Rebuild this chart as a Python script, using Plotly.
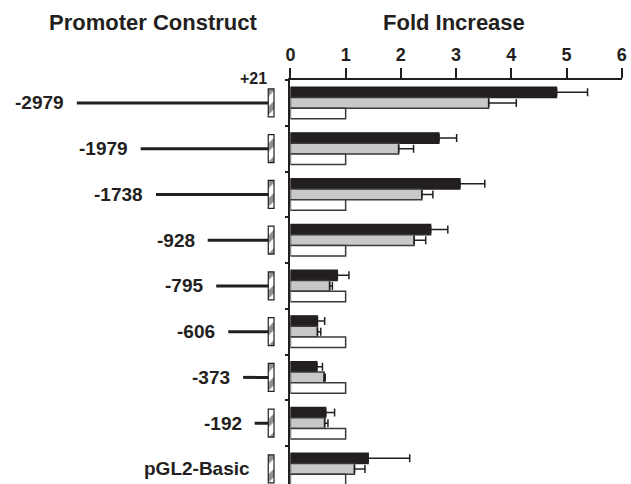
import plotly.graph_objects as go

# ---- data ----
constructs = ["-2979", "-1979", "-1738", "-928", "-795", "-606", "-373", "-192", "pGL2-Basic"]
starts = [-2979, -1979, -1738, -928, -795, -606, -373, -192, None]
end_bp = 21
black_vals = [4.82, 2.69, 3.07, 2.54, 0.85, 0.49, 0.48, 0.64, 1.41]
black_err = [0.56, 0.32, 0.45, 0.31, 0.21, 0.13, 0.10, 0.16, 0.75]
gray_vals = [3.59, 1.96, 2.38, 2.24, 0.71, 0.49, 0.61, 0.62, 1.16]
gray_err = [0.50, 0.27, 0.20, 0.21, 0.05, 0.06, 0.02, 0.06, 0.19]
white_vals = [1, 1, 1, 1, 1, 1, 1, 1, 1]
x_ticks = [0, 1, 2, 3, 4, 5, 6]

# ---- style ----
INK = "#231f20"
EDGE = "#3a3a3a"
FONT = "Liberation Sans, Arial, sans-serif"
W, H = 631, 484
TOP = 80
BOX_LEN = 90  # bp, visual width of the +21 box

fig = go.Figure()

def err(a):
    return dict(type="data", array=a, arrayminus=[0] * len(a), symmetric=False,
                color=INK, thickness=1.5, width=4)

fig.add_trace(go.Bar(y=constructs, x=black_vals, orientation="h", error_x=err(black_err),
                     marker=dict(color=INK, line=dict(color=INK, width=1.2)), name="black"))
fig.add_trace(go.Bar(y=constructs, x=gray_vals, orientation="h", error_x=err(gray_err),
                     marker=dict(color="#c8c8c8", line=dict(color=EDGE, width=1.5)), name="gray"))
fig.add_trace(go.Bar(y=constructs, x=white_vals, orientation="h",
                     marker=dict(color="white", line=dict(color=EDGE, width=1.5)), name="white"))

# promoter lines
lx, ly = [], []
for c, s in zip(constructs, starts):
    if s is None:
        continue
    lx += [s, end_bp, None]
    ly += [c, c, None]
fig.add_trace(go.Scatter(x=lx, y=ly, mode="lines", line=dict(color=INK, width=3),
                         xaxis="x2", yaxis="y", hoverinfo="skip"))

# hatched boxes
fig.add_trace(go.Bar(y=constructs, x=[BOX_LEN] * len(constructs), base=[end_bp] * len(constructs),
                     orientation="h", xaxis="x2", yaxis="y", width=0.61, offset=-0.305,
                     marker=dict(color="white", line=dict(color=INK, width=1.2),
                                 pattern=dict(shape="/", fgcolor=INK, bgcolor="white",
                                              size=13, solidity=0.45))))

annotations = []
for i, (c, s) in enumerate(zip(constructs, starts)):
    x = s if s is not None else end_bp
    shift = -11 if s is not None else -16
    annotations.append(dict(x=x, y=i, xref="x2", yref="y", text=c, showarrow=False,
                            xanchor="right", yanchor="middle", xshift=shift,
                            font=dict(family=FONT, size=19, color=INK, weight="bold")))
annotations.append(dict(x=end_bp, y=1, xref="x2", yref="paper", text="+21", showarrow=False,
                        xanchor="right", yanchor="middle", xshift=1, yshift=1.5,
                        font=dict(family=FONT, size=16, color=INK, weight="bold")))
annotations.append(dict(x=150 / W, y=1, xref="paper", yref="paper", text="Promoter Construct",
                        showarrow=False, xanchor="center", yanchor="middle", yshift=TOP - 22.5,
                        font=dict(family=FONT, size=22, color=INK, weight="bold")))
annotations.append(dict(x=456 / W, y=1, xref="paper", yref="paper", text="Fold Increase",
                        showarrow=False, xanchor="center", yanchor="middle", yshift=TOP - 22.5,
                        font=dict(family=FONT, size=22, color=INK, weight="bold")))

unit = 45.75
ybottom = -0.5 + (H - TOP) / unit

fig.update_layout(
    width=W, height=H, margin=dict(l=0, r=0, t=TOP, b=0, pad=0),
    paper_bgcolor="white", plot_bgcolor="white", showlegend=False,
    barmode="group", bargap=0.31, bargroupgap=0,
    annotations=annotations,
    xaxis=dict(domain=[290 / W, 627 / W], range=[0, 6.005], side="top", tickvals=x_ticks,
               showline=True, linewidth=2, linecolor=INK, ticks="outside", ticklen=10,
               tickwidth=2, tickcolor=INK, showgrid=False, zeroline=False,
               ticklabeloverflow="allow",
               tickfont=dict(family=FONT, size=18, color=INK, weight="bold")),
    xaxis2=dict(domain=[0, 285 / W], range=[-4105, 291], visible=False, anchor="y"),
    yaxis=dict(type="category", categoryarray=constructs, range=[ybottom, -0.5],
               showticklabels=False, ticks="outside", tickson="boundaries", ticklen=3,
               tickwidth=1.5, tickcolor=INK, showline=True, linewidth=2, linecolor=INK,
               showgrid=False, zeroline=False, anchor="x"),
)

fig.write_html("out.html", config={"displayModeBar": False},
               post_script="document.body.style.margin='0';")
